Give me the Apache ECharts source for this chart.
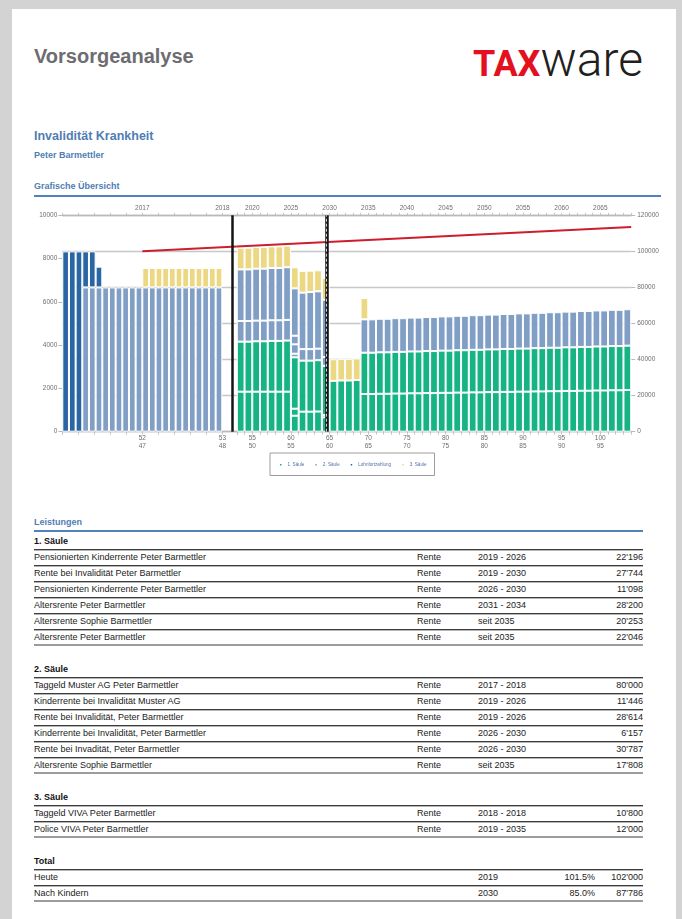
<!DOCTYPE html>
<html lang="de">
<head>
<meta charset="utf-8">
<title>Vorsorgeanalyse</title>
<script src="https://cdn.jsdelivr.net/npm/echarts@6.0.0/dist/echarts.min.js"></script>
<style>
  html, body { margin: 0; padding: 0; }
  body {
    width: 682px; height: 919px; position: relative; overflow: hidden;
    background: #d3d3d3; font-family: "Liberation Sans", Arial, sans-serif;
  }
  .page { position: absolute; left: 12px; top: 9px; width: 664px; height: 910px; background: #fff; }
  .abs { position: absolute; white-space: nowrap; }
  #title { left: 34px; top: 46px; font-size: 20px; line-height: 20px; font-weight: bold; color: #6c6d70; }
  #logo { left: 473px; top: 36px; line-height: 48px; font-family: Roboto, sans-serif; }
  #logo .tax { font-weight: 700; font-size: 36px; color: #e3101f; }
  #logo .ware { font-weight: 300; font-size: 48px; color: #231f20; }
  .blue { color: #4f7db5; font-weight: bold; }
  #subtitle { left: 34px; top: 128px; font-size: 12.5px; line-height: 16px; }
  #person { left: 34px; top: 149px; font-size: 9px; line-height: 12px; }
  #overview { left: 34px; top: 180px; font-size: 9px; line-height: 12px; }
  #overviewLine { left: 34px; top: 195px; width: 627px; height: 2px; background: #4f81bd; }
  #chart { position: absolute; left: 0; top: 200px; width: 682px; height: 285px; }
  #tables { position: absolute; left: 34px; top: 514px; width: 609px; font-size: 9px; color: #222; }
  #tables .head { height: 16px; line-height: 16px; }
  #tables .headLine { height: 2px; background: #4f81bd; }
  #tables .section { margin-top: 16px; }
  #tables .section.first { margin-top: 2px; }
  #tables .row { position: relative; height: 16px; line-height: 15px; box-sizing: border-box;
                 border-bottom: 1px solid #3c3c3c; box-shadow: 0 1px 0 #b5b5b5; }
  #tables .row.title { font-weight: bold; color: #111; }
  #tables .row.last { border-bottom: 2px solid #9c9c9c; box-shadow: none; }
  #tables .row span { position: absolute; top: 0; white-space: nowrap; }
  #tables .c0 { left: 0; }
  #tables .c1 { left: 383px; }
  #tables .c2 { left: 444px; }
  #tables .c3 { right: 48px; text-align: right; }
  #tables .c4 { right: 0; text-align: right; }
</style>
</head>
<body>
<div class="page"></div>
<div id="title" class="abs">Vorsorgeanalyse</div>
<div id="logo" class="abs"><span class="tax">TAX</span><span class="ware">ware</span></div>
<div id="subtitle" class="abs blue">Invalidität Krankheit</div>
<div id="person" class="abs blue">Peter Barmettler</div>
<div id="overview" class="abs blue">Grafische Übersicht</div>
<div id="overviewLine" class="abs"></div>
<div id="chart"></div>
<div id="tables"></div>

<script>
// ---- Daten Grafik ----
// Monatliche Leistungen 2017/2018 (CHF pro Monat)
const monthLabels = [];
for (const y of [2017, 2018]) for (let m = 1; m <= 12; m++) monthLabels.push(m + "." + y);
const lohnfortzahlung = [8333, 8333, 8333, 1667, 1667, 958]; // ab 1.2017
const taggeldMusterAG = [6667, 6667, 6667, 6667, 6667, 6667, 6667, 6667, 6667, 6667, 6667,
                         6667, 6667, 6667, 6667, 6667, 6667, 6667, 6667, 6667, 6667]; // ab 4.2017
const taggeldViva = [900, 900, 900, 900, 900, 900, 900, 900, 900, 900, 900, 900]; // ab 1.2018

// Jährliche Leistungen (CHF pro Jahr)
const years = [];
for (let y = 2019; y <= 2069; y++) years.push(y);
const pensKinderrente1 = [22196, 22196, 22196, 22196, 22196, 22196, 22196, 3880]; // 2019-2026
const pensKinderrente2 = [8870, 11098, 11098, 11200, 7980]; // 2026-2030
const ivRente = [27744, 27744, 27944, 27944, 28144, 28144, 28344, 28500, 28300, 28300, 28450, 27240]; // 2019-2030
const altersrentePeter1 = [1280, 28200, 28400, 28400, 28650]; // 2030-2034
const altersrenteSophie = [20900, 20900, 21030, 21030, 21160, 21160, 21290, 21290, 21420, 21420,
                           21550, 21550, 21680, 21680, 21810, 21810, 21940, 21940, 22070, 22070,
                           22200, 22200, 22330, 22330, 22460, 22460, 22590, 22590, 22720, 22720,
                           22850, 22850, 22980, 22980, 23110]; // 2035-2069
const altersrentePeter2 = [22900, 22900, 23000, 23000, 23100, 23100, 23200, 23200, 23300, 23300,
                           23400, 23400, 23500, 23500, 23600, 23600, 23700, 23700, 23800, 23800,
                           23900, 23900, 24000, 24000, 24100, 24100, 24200, 24200, 24300, 24300,
                           24400, 24400, 24500, 24500, 24600]; // 2035-2069
const bvgKinderrente1 = [11446, 11446, 11446, 11446, 11446, 11446, 11446, 2000]; // 2019-2026
const bvgKinderrente2 = [5200, 6400, 6400, 6400, 4900]; // 2026-2030
const bvgRente1 = [28614, 28614, 28814, 28814, 29014, 29014, 29214, 4780]; // 2019-2026
const bvgRente2 = [26270, 31300, 31650, 31800, 31800]; // 2026-2030
const bvgAltersrenteSophie = [18500, 18500, 18600, 18600, 18700, 18700, 18800, 18800, 18900, 18900,
                              19000, 19000, 19100, 19100, 19200, 19200, 19300, 19300, 19400, 19400,
                              19500, 19500, 19600, 19600, 19700, 19700, 19800, 19800, 19900, 19900,
                              20000, 20000, 20100, 20100, 20200]; // 2035-2069
const policeViva = [12000, 12000, 12000, 12000, 12000, 12000, 12000, 11650, 12000, 11850, 11650,
                    12100, 12000, 12000, 12000, 12000, 11800]; // 2019-2035

// Einkommenslinie (CHF pro Jahr)
const incomeYearsLeft = [2017, 2018.18];
const incomeLeft = [100000, 102660];
const incomeYearsRight = [2018, 2069];
const incomeRight = [102660, 113500];
const invalidityStart = 2018.12;
const retirementDate = 2029.63;
const birthYears = [1965, 1970];

// ---- Daten Tabellen ----
const saeule1 = [
  ["Pensionierten Kinderrente Peter Barmettler", "Rente", "2019 - 2026", "22'196"],
  ["Rente bei Invalidität Peter Barmettler", "Rente", "2019 - 2030", "27'744"],
  ["Pensionierten Kinderrente Peter Barmettler", "Rente", "2026 - 2030", "11'098"],
  ["Altersrente Peter Barmettler", "Rente", "2031 - 2034", "28'200"],
  ["Altersrente Sophie Barmettler", "Rente", "seit 2035", "20'253"],
  ["Altersrente Peter Barmettler", "Rente", "seit 2035", "22'046"]
];
const saeule2 = [
  ["Taggeld Muster AG Peter Barmettler", "Rente", "2017 - 2018", "80'000"],
  ["Kinderrente bei Invalidität Muster AG", "Rente", "2019 - 2026", "11'446"],
  ["Rente bei Invalidität, Peter Barmettler", "Rente", "2019 - 2026", "28'614"],
  ["Kinderrente bei Invalidität, Peter Barmettler", "Rente", "2026 - 2030", "6'157"],
  ["Rente bei Invadität, Peter Barmettler", "Rente", "2026 - 2030", "30'787"],
  ["Altersrente Sophie Barmettler", "Rente", "seit 2035", "17'808"]
];
const saeule3 = [
  ["Taggeld VIVA Peter Barmettler", "Rente", "2018 - 2018", "10'800"],
  ["Police VIVA Peter Barmettler", "Rente", "2019 - 2035", "12'000"]
];
const totals = [
  ["Heute", "", "2019", "101.5%", "102'000"],
  ["Nach Kindern", "", "2030", "85.0%", "87'786"]
];

// ---- Tabellen ----
function renderSection(title, rows, first) {
  let html = '<div class="section' + (first ? ' first' : '') + '">';
  html += '<div class="row title"><span class="c0">' + title + '</span></div>';
  rows.forEach((r, i) => {
    html += '<div class="row' + (i === rows.length - 1 ? ' last' : '') + '">';
    html += '<span class="c0">' + r[0] + '</span>';
    if (r[1]) html += '<span class="c1">' + r[1] + '</span>';
    html += '<span class="c2">' + r[2] + '</span>';
    if (r.length === 5) {
      html += '<span class="c3">' + r[3] + '</span><span class="c4">' + r[4] + '</span>';
    } else {
      html += '<span class="c4">' + r[3] + '</span>';
    }
    html += '</div>';
  });
  return html + '</div>';
}
document.getElementById("tables").innerHTML =
  '<div class="head blue">Leistungen</div><div class="headLine"></div>' +
  renderSection("1. Säule", saeule1, true) +
  renderSection("2. Säule", saeule2) +
  renderSection("3. Säule", saeule3) +
  renderSection("Total", totals);

// ---- Grafik ----
const green = "#16b383";
const lightBlue = "#819fc5";
const darkBlue = "#2966a3";
const yellow = "#ecd883";
const red = "#cc1e2c";
const axisGray = "#b9b9b9";
const gridGray = "#c7c7c7";
const labelGray = "#6e6e6e";

const isWhole = (v) => Math.abs(v - Math.round(v)) < 1e-6;
const ageLabel = (v) => birthYears.map((b) => Math.round(v) - b).join("\n");

// Zeitachse (oben Jahr, unten Alter)
function timeAxis(gridIndex, position, min, max, interval, show) {
  return {
    type: "value", gridIndex, position, min, max, interval,
    axisLine: { show: true, onZero: false, lineStyle: { color: axisGray, width: 1.3 } },
    axisTick: { show: true, length: position === "top" ? 2.5 : 3, lineStyle: { color: axisGray, width: 0.8 } },
    splitLine: { show: false },
    axisLabel: {
      fontSize: 6.5, color: labelGray, margin: 3, lineHeight: 8,
      showMinLabel: true, showMaxLabel: true,
      formatter: (v) => (isWhole(v) && show(Math.round(v)) ? (position === "top" ? String(Math.round(v)) : ageLabel(v)) : "")
    }
  };
}

function pad(values, labels, start) {
  const out = labels.map(() => "-");
  const i0 = labels.indexOf(start);
  values.forEach((v, i) => { out[i0 + i] = v; });
  return out;
}

const monthlyLayers = [
  ["2. Säule", lightBlue, "4.2017", taggeldMusterAG],
  ["Lohnfortzahlung", darkBlue, "1.2017", lohnfortzahlung],
  ["3. Säule", yellow, "1.2018", taggeldViva]
];
const yearlyLayers = [
  ["1. Säule", green, 2026, pensKinderrente2],
  ["1. Säule", green, 2019, pensKinderrente1],
  ["1. Säule", green, 2030, altersrentePeter1],
  ["1. Säule", green, 2019, ivRente],
  ["1. Säule", green, 2035, altersrenteSophie],
  ["1. Säule", green, 2035, altersrentePeter2],
  ["2. Säule", lightBlue, 2019, bvgKinderrente1],
  ["2. Säule", lightBlue, 2026, bvgKinderrente2],
  ["2. Säule", lightBlue, 2019, bvgRente1],
  ["2. Säule", lightBlue, 2026, bvgRente2],
  ["2. Säule", lightBlue, 2035, bvgAltersrenteSophie],
  ["3. Säule", yellow, 2019, policeViva]
];

const barStyle = (color) => ({ color, borderColor: "#ffffff", borderWidth: 1 });
const series = [];
monthlyLayers.forEach(([name, color, start, values]) => {
  series.push({
    type: "bar", name, xAxisIndex: 2, yAxisIndex: 2, stack: "monat",
    barCategoryGap: "0%", data: pad(values, monthLabels, start),
    itemStyle: barStyle(color), emphasis: { disabled: true }
  });
});
yearlyLayers.forEach(([name, color, start, values]) => {
  series.push({
    type: "bar", name, xAxisIndex: 5, yAxisIndex: 4, stack: "jahr",
    barCategoryGap: "0%", data: pad(values, years, start),
    itemStyle: barStyle(color), emphasis: { disabled: true }
  });
});
series.push({
  type: "line", name: "Einkommen", xAxisIndex: 0, yAxisIndex: 1, symbol: "none",
  data: incomeYearsLeft.map((y, i) => [y, incomeLeft[i]]),
  lineStyle: { color: red, width: 2 },
  markLine: {
    silent: true, symbol: ["none", "none"], label: { show: false },
    data: [{ xAxis: invalidityStart, lineStyle: { color: "#151515", width: 2.5, type: "solid" } }]
  }
});
series.push({
  type: "line", name: "Einkommen", xAxisIndex: 3, yAxisIndex: 3, symbol: "none",
  data: incomeYearsRight.map((y, i) => [y, incomeRight[i]]),
  lineStyle: { color: red, width: 2 },
  markLine: {
    silent: true, symbol: ["none", "none"], label: { show: false },
    data: [
      { xAxis: retirementDate, lineStyle: { color: "#151515", width: 3.5, type: "solid" } },
      { xAxis: retirementDate, lineStyle: { color: "#d0d0d0", width: 1, type: [3, 2] } }
    ]
  }
});

const gridBox = { top: 15.3, height: 216.4, outerBoundsMode: "none" };
const plain = (v) => String(v);
const chart = echarts.init(document.getElementById("chart"));
chart.setOption({
  animation: false,
  textStyle: { fontFamily: "Liberation Sans, Arial, sans-serif" },
  grid: [
    { ...gridBox, left: 62.3, width: 174.5 },
    { ...gridBox, left: 62.3, width: 160 },
    { ...gridBox, left: 236.8, width: 394.4 },
    { ...gridBox, left: 236.8, width: 394.4 }
  ],
  xAxis: [
    timeAxis(0, "bottom", 2016, 2018.18, 0.2, (y) => y > 2016),
    timeAxis(0, "top", 2016, 2018.18, 0.2, (y) => y > 2016),
    { type: "category", gridIndex: 1, data: monthLabels, show: false },
    timeAxis(2, "bottom", 2018, 2069, 1, (y) => y % 5 === 0),
    timeAxis(2, "top", 2018, 2069, 1, (y) => y % 5 === 0),
    { type: "category", gridIndex: 3, data: years, show: false }
  ],
  yAxis: [
    {
      type: "value", gridIndex: 0, position: "left", min: 0, max: 10000, interval: 2000,
      axisLine: { show: false, onZero: false },
      axisTick: { show: true, length: 4, lineStyle: { color: axisGray } },
      axisLabel: { fontSize: 6.5, color: labelGray, margin: 5, formatter: plain },
      splitLine: { show: false }
    },
    {
      type: "value", gridIndex: 0, position: "right", min: 0, max: 120000, interval: 20000,
      axisLine: { show: false, onZero: false }, axisTick: { show: false }, axisLabel: { show: false },
      splitLine: { show: true, lineStyle: { color: gridGray, width: 1.3 } }
    },
    { type: "value", gridIndex: 1, min: 0, max: 10000, show: false },
    {
      type: "value", gridIndex: 2, position: "right", min: 0, max: 120000, interval: 20000,
      axisLine: { show: false, onZero: false },
      axisTick: { show: true, length: 4, lineStyle: { color: axisGray } },
      axisLabel: { fontSize: 6.5, color: labelGray, margin: 6, formatter: plain },
      splitLine: { show: true, lineStyle: { color: gridGray, width: 1.3 } }
    },
    { type: "value", gridIndex: 3, min: 0, max: 120000, show: false }
  ],
  legend: {
    data: ["1. Säule", "2. Säule", "Lohnfortzahlung", "3. Säule"],
    left: 270, top: 253, icon: "rect", itemWidth: 3.5, itemHeight: 3.5, itemGap: 9,
    borderColor: "#9c9c9c", borderWidth: 1, padding: [9, 8, 8, 8],
    selectedMode: false,
    textStyle: { fontSize: 4.6, color: "#5673a3" }
  },
  series
});
</script>
</body>
</html>
